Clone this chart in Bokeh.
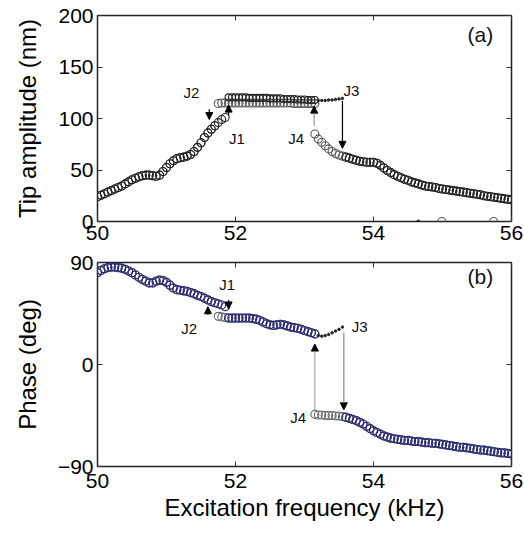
import numpy as np
from bokeh.plotting import figure
from bokeh.layouts import column
from bokeh.models import Range1d, LinearAxis, FixedTicker, Arrow, NormalHead, ColumnDataSource
from bokeh.core.properties import value
from bokeh.embed import file_html
from bokeh.resources import INLINE

FONT = "Liberation Sans"

# ---------------- data ----------------
# lower-left branch, 50.00 .. 51.85 kHz, 0.05 kHz steps
freq_left = np.linspace(50.00, 51.85, 38)
amp_left = [24, 25.5, 27, 28.5, 30, 31.5, 33, 34.5, 36.5, 38.5,
            40.5, 42, 43.5, 44.5, 45, 45, 44.5, 44, 45, 48.5,
            52.5, 56, 59, 61, 62, 62.5, 63.5, 65, 68, 72,
            76.5, 81.5, 86, 89.5, 93, 96, 99, 101]
phase_left = [81, 83, 84.5, 85.5, 86, 86, 85.5, 85, 84, 82.5,
              81, 79, 77, 75, 73.5, 72, 72, 73.5, 74.5, 74,
              72.5, 70, 67.5, 66, 65.5, 65, 64.5, 63.5, 62.5, 61,
              60, 58.5, 57, 55.5, 54.5, 53.5, 52.5, 51]

# upper branch reached by the up-sweep (after J1), 51.90 .. 53.15 kHz
freq_upper_up = np.linspace(51.90, 53.15, 26)
amp_upper_up = [120.5, 120.5, 120.5, 120.5, 120.5, 120.5, 120, 120, 120, 120,
                120, 120, 119.5, 119.5, 119.5, 119.5, 119, 119, 119, 119,
                118.5, 118.5, 118.5, 118, 118, 118]

# upper branch reached by the down-sweep (after J4), 51.75 .. 53.15 kHz
freq_upper = np.linspace(51.75, 53.15, 29)
amp_upper_down = [114.5, 115, 115, 115, 115, 115, 115, 115, 115, 115,
                  115, 115, 115, 115, 115, 115, 115, 115, 115, 115,
                  115, 115, 114.5, 114.5, 114.5, 114.5, 114.5, 114.5, 114.5]
phase_upper = [42.5, 42, 41.5, 41, 41, 41, 41, 41, 41, 41,
               40.5, 40, 39, 37.5, 36, 35, 34.5, 35, 35.5, 35,
               34, 33, 32.5, 32, 31, 30, 29, 28, 27]

# small dots before J3, 53.20 .. 53.55 kHz
freq_dots = np.linspace(53.20, 53.55, 8)
amp_dots = [117.5, 117.5, 117.5, 118, 118, 118.5, 119, 119.5]
phase_dots = [25.5, 25, 25.5, 26.5, 28, 29.5, 31, 33]

# lower-right branch, 53.15 .. 56.00 kHz
freq_right = np.linspace(53.15, 56.00, 58)
amp_right = [85, 80, 77, 73.5, 70.5, 68, 66, 64.5, 63.5, 62.5,
             61.5, 60.5, 59.5, 58.5, 58, 57.5, 57.5, 57.5, 56.5, 54.5,
             52, 49.5, 47.5, 45.5, 44, 42.5, 41, 40, 38.5, 37.5,
             36.5, 35.5, 34.5, 34, 33.5, 33, 32, 31.5, 31, 30.5,
             30, 29.5, 29, 28.5, 28, 27.5, 27, 26.5, 26, 25,
             24.5, 24, 23.5, 23, 22.5, 22, 21.5, 21]
phase_right = [-44, -44.5, -44.5, -45, -45, -45, -45.5, -45.5, -46, -46.5,
               -47.5, -48.5, -49.5, -51, -52.5, -54.5, -56.5, -58.5, -60, -61.5,
               -63, -64, -65, -65.5, -66, -66.5, -67, -67, -67.5, -68,
               -68, -68.5, -69, -69, -69.5, -69.5, -70, -70.5, -71, -71.5,
               -72, -72.5, -73, -73, -73.5, -74, -74.5, -75, -75.5, -75.5,
               -76, -76.5, -77, -77.5, -78, -78, -78.5, -79]

# stray points on the zero line of panel (a)
freq_stray = [54.99, 55.74]
amp_stray = [0, 0]
freq_stray_dot = [54.65]
amp_stray_dot = [0]

x_ticks = [50, 52, 54, 56]
amp_ticks = [0, 50, 100, 150, 200]
phase_ticks = [-90, 0, 90]

# jump annotations: (label, x, y) and arrows (x, y_start, y_end, colour)
labels_a = [("J2", 51.36, 125), ("J1", 52.02, 81), ("J4", 52.88, 81), ("J3", 53.68, 127), ("(a)", 55.55, 182)]
arrows_a = [(51.62, 109, 99, "#000000"), (51.90, 103, 113, "#000000"),
            (53.14, 93, 112, "#999999"), (53.55, 117, 71, "#000000")]
labels_b = [("J1", 51.88, 70.5), ("J2", 51.33, 32), ("J3", 53.80, 33.5), ("J4", 52.91, -47), ("(b)", 55.55, 78)]
arrows_b = [(51.90, 57, 49, "#000000"), (51.60, 44, 51, "#000000"),
            (53.15, -40, 18, "#aaaaaa"), (53.57, 28, -40, "#888888")]

# ---------------- sweeps ----------------
left_up = freq_left <= 51.851
left_down = freq_left <= 51.701
right_up = freq_right >= 53.599


def style(p, ticks, label, overrides=None):
    p.outline_line_color = "#222222"
    p.outline_line_width = 1.5
    p.xgrid.visible = False
    p.ygrid.visible = False
    p.background_fill_color = "white"
    p.border_fill_color = "white"
    xa, ya = p.below[0], p.left[0]
    for ax in (xa, ya):
        ax.axis_line_color = None
        ax.major_tick_in = 5
        ax.major_tick_out = 0
        ax.minor_tick_line_color = None
        ax.major_tick_line_color = "#333333"
        ax.major_label_text_font = FONT
        ax.major_label_text_font_size = "21px"
        ax.major_label_text_color = "black"
        ax.axis_label_text_font = FONT
        ax.axis_label_text_font_size = "24px"
        ax.axis_label_text_font_style = "normal"
        ax.axis_label_text_color = "black"
    xa.ticker = FixedTicker(ticks=x_ticks)
    ya.ticker = FixedTicker(ticks=ticks)
    ya.axis_label = label
    ya.major_label_standoff = 4
    ya.axis_label_standoff = 14
    if overrides:
        ya.major_label_overrides = overrides
    # mirrored inner ticks (no labels)
    r = LinearAxis(ticker=FixedTicker(ticks=ticks),
                   major_label_overrides={t: "" for t in ticks},
                   major_tick_in=5, major_tick_out=0, axis_line_color=None,
                   minor_tick_line_color=None, major_label_standoff=0,
                   major_tick_line_color="#333333")
    t = LinearAxis(ticker=FixedTicker(ticks=x_ticks),
                   major_label_overrides={v: "" for v in x_ticks},
                   major_tick_in=5, major_tick_out=0, axis_line_color=None,
                   minor_tick_line_color=None, major_label_standoff=0,
                   major_tick_line_color="#333333")
    p.add_layout(r, "right")
    p.add_layout(t, "above")
    return xa, ya


def add_labels(p, labels, arrows, size):
    for (x, y0, y1, c) in arrows:
        p.add_layout(Arrow(end=NormalHead(size=7, fill_color="black", line_color="black", line_width=1),
                           x_start=x, y_start=y0, x_end=x, y_end=y1,
                           line_color=c, line_width=1.2))
    src = ColumnDataSource(dict(x=[l[1] for l in labels], y=[l[2] for l in labels],
                                t=[l[0] for l in labels],
                                s=[size if not l[0].startswith("(") else "21px" for l in labels]))
    p.text(x="x", y="y", text="t", source=src, text_font=value(FONT), text_font_size="s",
           text_align="center", text_baseline="middle", text_color="#111111")


# ---------------- panel (a) ----------------
pa = figure(width=524, height=250, output_backend="svg", toolbar_location=None,
            x_range=Range1d(50, 56), y_range=Range1d(0, 200),
            min_border_left=97, min_border_right=13, min_border_top=15, min_border_bottom=29)
xa_a, ya_a = style(pa, amp_ticks, "Tip amplitude (nm)")
xa_a.major_label_standoff = 4

grey_a = "#555555"
dark_a = "#222222"
# down-sweep
pa.scatter(freq_right, amp_right, size=8, marker="circle", fill_color=None, line_color=grey_a, line_width=1.1)
pa.scatter(freq_upper, amp_upper_down, size=8, marker="circle", fill_color=None, line_color=grey_a, line_width=1.1)
pa.scatter(freq_left[left_down], np.array(amp_left)[left_down], size=8, marker="circle",
           fill_color=None, line_color=grey_a, line_width=1.1)
# up-sweep
pa.scatter(freq_left[left_up], np.array(amp_left)[left_up], size=8, marker="circle",
           fill_color=None, line_color=dark_a, line_width=1.1)
pa.scatter(freq_upper_up, amp_upper_up, size=7, marker="circle", fill_color=None, line_color=dark_a, line_width=1.1)
pa.scatter(freq_dots, amp_dots, size=2.5, marker="circle", fill_color=dark_a, line_color=dark_a)
pa.scatter(freq_right[right_up], np.array(amp_right)[right_up], size=8, marker="circle",
           fill_color=None, line_color=dark_a, line_width=1.1)
pa.scatter(freq_stray, amp_stray, size=8, marker="circle", fill_color=None, line_color=grey_a, line_width=1.1)
pa.scatter(freq_stray_dot, amp_stray_dot, size=3, marker="circle", fill_color=dark_a, line_color=dark_a)
add_labels(pa, labels_a, arrows_a, "15px")

# ---------------- panel (b) ----------------
pb = figure(width=524, height=286, output_backend="svg", toolbar_location=None,
            x_range=Range1d(50, 56), y_range=Range1d(-90, 90),
            min_border_left=97, min_border_right=13, min_border_top=12, min_border_bottom=70)
xa_b, ya_b = style(pb, phase_ticks, "Phase (deg)", overrides={-90: "\u221290"})
xa_b.axis_label = "Excitation frequency (kHz)"
xa_b.major_label_standoff = 7
xa_b.axis_label_standoff = 3

grey_b = "#666666"
blue_b = "#2c2c78"
# down-sweep (grey)
pb.scatter(freq_right, phase_right, size=8, marker="circle", fill_color=None, line_color=grey_b, line_width=1.1)
pb.scatter(freq_upper, phase_upper, size=8, marker="circle", fill_color=None, line_color=grey_b, line_width=1.1)
pb.scatter(freq_left[left_down], np.array(phase_left)[left_down], size=8, marker="circle",
           fill_color=None, line_color=grey_b, line_width=1.1)
# up-sweep (blue)
up_upper = freq_upper >= 51.899
pb.scatter(freq_left[left_up], np.array(phase_left)[left_up], size=8, marker="circle",
           fill_color=None, line_color=blue_b, line_width=1.2)
pb.scatter(freq_upper[up_upper], np.array(phase_upper)[up_upper], size=8, marker="circle",
           fill_color=None, line_color=blue_b, line_width=1.2)
pb.scatter(freq_dots, phase_dots, size=2.5, marker="circle", fill_color="#222222", line_color="#222222")
pb.scatter(freq_right[right_up], np.array(phase_right)[right_up], size=8, marker="circle",
           fill_color=None, line_color=blue_b, line_width=1.2)
add_labels(pb, labels_b, arrows_b, "15px")

layout = column(pa, pb, spacing=0)
open("out.html", "w").write(file_html(layout, INLINE))
